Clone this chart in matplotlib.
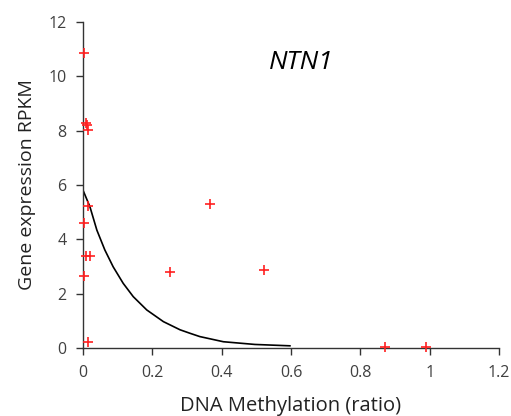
import matplotlib
matplotlib.use("Agg")
import matplotlib.pyplot as plt
from matplotlib.ticker import FuncFormatter

# measured points (DNA methylation ratio vs RPKM)
meth = [0.004, 0.009, 0.013, 0.015, 0.014, 0.004, 0.009, 0.020, 0.004, 0.014,
        0.251, 0.367, 0.522, 0.871, 0.991]
rpkm = [10.85, 8.27, 8.22, 8.03, 5.22, 4.61, 3.38, 3.38, 2.65, 0.23,
        2.81, 5.29, 2.87, 0.05, 0.05]

# exponential trend line
trend_x = [0.0, 0.02, 0.04, 0.063, 0.087, 0.116, 0.145, 0.184, 0.232, 0.28,
           0.309, 0.337, 0.405, 0.496, 0.597]
trend_y = [5.81, 5.20, 4.34, 3.61, 2.99, 2.38, 1.89, 1.40, 0.97, 0.67,
           0.54, 0.42, 0.23, 0.13, 0.08]

plt.rcParams['font.family'] = ['Open Sans', 'DejaVu Sans']

fig = plt.figure(figsize=(5.11, 4.16), dpi=100)
ax = fig.add_axes([0.1624, 0.1635, 0.814, 0.7835])

ax.plot(trend_x, trend_y, color='black', lw=1.2)
ax.plot(meth, rpkm, linestyle='none', marker='+', color='#ff2020',
        markersize=7, markeredgewidth=1.2, clip_on=False, zorder=5)

ax.set_xlim(0, 1.2)
ax.set_ylim(0, 12)
ax.set_xticks([0, 0.2, 0.4, 0.6, 0.8, 1.0, 1.2])
ax.set_yticks([0, 2, 4, 6, 8, 10, 12])
ax.xaxis.set_major_formatter(FuncFormatter(lambda v, p: '%g' % round(v, 2)))
ax.yaxis.set_major_formatter(FuncFormatter(lambda v, p: '%g' % v))

for s in ['top', 'right']:
    ax.spines[s].set_visible(False)
for s in ['left', 'bottom']:
    ax.spines[s].set_linewidth(1.0)
    ax.spines[s].set_color('#333333')
ax.tick_params(direction='out', length=5, width=1.0, color='#333333',
               labelsize=11.5, labelcolor='#404040', pad=7)

ax.set_xlabel('DNA Methylation (ratio)', fontsize=14.5, color='#222222', labelpad=11)
ax.set_ylabel('Gene expression RPKM', fontsize=14, color='#222222', labelpad=9)
ax.text(0.63, 10.5, 'NTN1', fontsize=19, style='italic', color='black',
        ha='center', va='center')

fig.savefig('out.png', dpi=100)
